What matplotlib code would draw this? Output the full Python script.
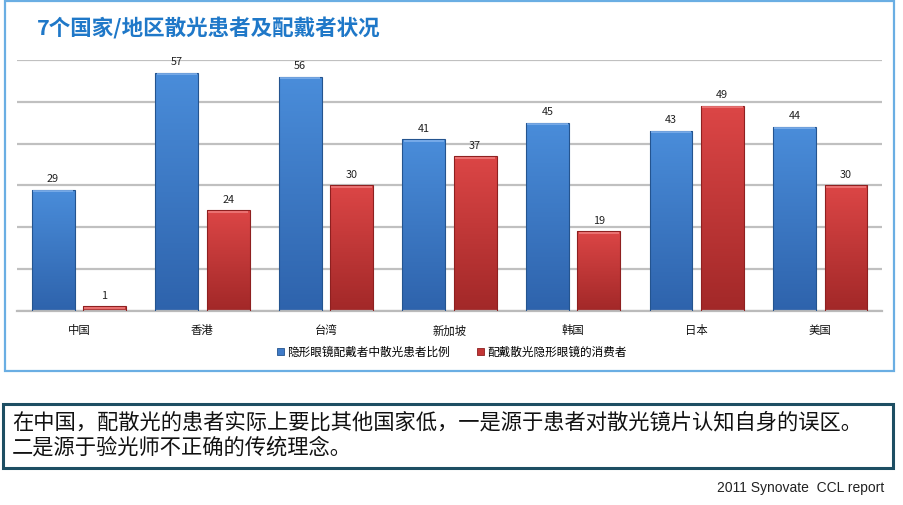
import numpy as np
import matplotlib
matplotlib.use("Agg")
import matplotlib.pyplot as plt
from matplotlib.patches import Rectangle
from matplotlib.colors import LinearSegmentedColormap

plt.rcParams['font.family'] = ['Noto Sans CJK SC', 'DejaVu Sans']

categories = ['中国', '香港', '台湾', '新加坡', '韩国', '日本', '美国']
series_blue = [29, 57, 56, 41, 45, 43, 44]
series_red = [1, 24, 30, 37, 19, 49, 30]
series_names = ['隐形眼镜配戴者中散光患者比例', '配戴散光隐形眼镜的消费者']
title = '7个国家/地区散光患者及配戴者状况'
note_lines = ['在中国，配散光的患者实际上要比其他国家低，一是源于患者对散光镜片认知自身的误区。',
              '二是源于验光师不正确的传统理念。']
source = '2011 Synovate  CCL report'

fig = plt.figure(figsize=(9.04, 5.05), dpi=100)
fig.patch.set_facecolor('white')

# chart frame
fig.patches.append(Rectangle((0.0055, 0.266), 0.9834, 0.732, transform=fig.transFigure,
                             fill=False, edgecolor='#6AAEE3', linewidth=1.6, zorder=0))
# note box
fig.patches.append(Rectangle((0.0035, 0.0733), 0.9845, 0.1267, transform=fig.transFigure,
                             fill=False, edgecolor='#1D4E63', linewidth=2.2, zorder=0))

ax = fig.add_axes([0.0188, 0.3848, 0.9569, 0.4964])
x = np.arange(len(categories))
w = 0.347
off = 0.208

cm_blue = LinearSegmentedColormap.from_list('b', ['#2E63AC', '#4A8DDA'])
cm_red = LinearSegmentedColormap.from_list('r', ['#A22828', '#DC4646'])

def grad_bars(xs, vals, cmap, edge, light):
    bars = ax.bar(xs, vals, w, color='none', edgecolor=edge, linewidth=0.8, zorder=3)
    grad = np.linspace(0, 1, 256).reshape(-1, 1)
    for b in bars:
        bx, by, bw, bh = b.get_x(), b.get_y(), b.get_width(), b.get_height()
        im = ax.imshow(grad, extent=(bx, bx + bw, by, by + bh), origin='lower',
                       cmap=cmap, aspect='auto', zorder=2)
        im.set_clip_path(b)
        ax.plot([bx + bw * 0.03, bx + bw * 0.97], [by + bh - 0.35, by + bh - 0.35],
                color=light, lw=1.2, zorder=4, solid_capstyle='butt')
    return bars

bb = grad_bars(x - off, series_blue, cm_blue, '#24548F', '#7FB0EC')
rb = grad_bars(x + off, series_red, cm_red, '#8E2020', '#EE7A7A')

for xs, vals in ((x - off, series_blue), (x + off, series_red)):
    for xi, v in zip(xs, vals):
        ax.annotate(str(v), (xi, v), xytext=(0, 4), textcoords='offset points',
                    ha='center', va='bottom', fontsize=7.8, color='#222222', zorder=5)

ax.set_xlim(-0.5, len(categories) - 0.5)
ax.set_ylim(0, 60)
ax.set_yticks(np.arange(0, 61, 10))
ax.yaxis.grid(True, color='#C0C0C0', linewidth=1.6, zorder=0)
ax.set_axisbelow(True)
ax.tick_params(axis='y', left=False, labelleft=False)
ax.tick_params(axis='x', bottom=False, labelsize=8.2, pad=7, colors='#111111')
ax.set_xticks(x)
ax.set_xticklabels(categories)
for s in ('top', 'right', 'left'):
    ax.spines[s].set_visible(False)
ax.spines['bottom'].set_color('#BBBBBB')
ax.spines['bottom'].set_linewidth(1.6)
ax.set_facecolor('none')

h1 = Rectangle((0, 0), 1, 1, facecolor='#3F7BC8', edgecolor='#24548F', lw=0.6)
h2 = Rectangle((0, 0), 1, 1, facecolor='#C23535', edgecolor='#8E2020', lw=0.6)
fig.legend([h1, h2], series_names, loc='center', bbox_to_anchor=(0.5, 0.303), ncol=2,
           frameon=False, fontsize=8.4, handlelength=0.6, handleheight=0.6,
           handletextpad=0.3, columnspacing=2.3)

fig.text(0.041, 0.944, title, fontsize=15.5, fontweight='bold', color='#1F78C8',
         ha='left', va='center')

fig.text(0.013, 0.164, note_lines[0], fontsize=15.3, color='#111111', ha='left', va='center')
fig.text(0.013, 0.114, note_lines[1], fontsize=15.3, color='#111111', ha='left', va='center')

fig.text(0.978, 0.034, source, fontsize=10, color='#222222', ha='right', va='center',
         family=['Liberation Sans', 'DejaVu Sans'])

fig.savefig('out.png', dpi=100, facecolor='white')
